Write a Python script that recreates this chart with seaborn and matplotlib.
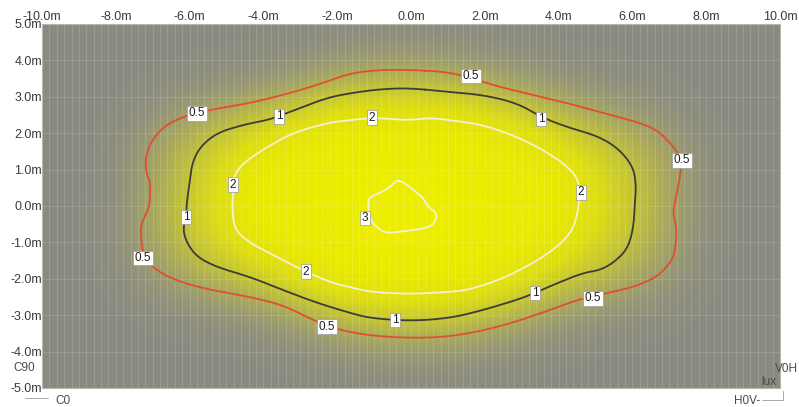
import numpy as np
import matplotlib
matplotlib.use("Agg")
import matplotlib.pyplot as plt
import seaborn as sns
from matplotlib.path import Path
from matplotlib.colors import LinearSegmentedColormap

sns.set_style("white")
plt.rcParams["font.family"] = ["Liberation Sans", "DejaVu Sans"]

# ---------------- data (metres) ----------------
x_ticks = [-10, -8, -6, -4, -2, 0, 2, 4, 6, 8, 10]
y_ticks = [5, 4, 3, 2, 1, 0, -1, -2, -3, -4, -5]
x_tick_labels = ["-10.0m", "-8.0m", "-6.0m", "-4.0m", "-2.0m", "0.0m",
                 "2.0m", "4.0m", "6.0m", "8.0m", "10.0m"]
y_tick_labels = ["5.0m", "4.0m", "3.0m", "2.0m", "1.0m", "0.0m",
                 "-1.0m", "-2.0m", "-3.0m", "-4.0m", "-5.0m"]

levels = [0.5, 1, 2, 3]

iso05_x = [-0.03, 1.06, 1.95, 2.41, 3.31, 4.23, 5.12, 6.12, 6.67, 7.02, 7.24, 7.32,
           7.29, 7.15, 7.10, 7.21, 7.15, 7.02, 6.67, 6.02, 5.31, 4.50, 3.77, 2.41,
           1.06, -0.30, -1.65, -2.55, -3.47, -4.36, -5.72, -6.61, -7.07, -7.26,
           -7.34, -7.26, -7.07, -7.07, -7.15, -7.21, -7.07, -6.72, -6.26, -5.80,
           -5.45, -4.36, -3.47, -2.55, -1.65, -0.84]
iso05_y = [3.74, 3.68, 3.41, 3.27, 3.05, 2.83, 2.58, 2.31, 2.09, 1.73, 1.46, 1.13,
           0.80, 0.08, -0.19, -0.66, -1.29, -1.57, -1.95, -2.23, -2.39, -2.58, -2.86,
           -3.32, -3.60, -3.63, -3.49, -3.19, -2.72, -2.50, -2.25, -1.95, -1.62,
           -1.35, -0.66, -0.38, 0.03, 0.71, 0.80, 1.26, 1.73, 2.17, 2.42, 2.55,
           2.64, 2.83, 3.05, 3.32, 3.65, 3.74]

iso1_x = [-0.03, 1.06, 1.95, 2.87, 3.58, 4.23, 5.12, 5.66, 6.02, 6.10, 6.07, 6.02,
          5.85, 5.47, 5.12, 4.66, 3.96, 3.36, 2.87, 1.95, 1.06, -0.03, -1.11, -1.65,
          -2.55, -3.47, -4.36, -5.26, -5.80, -6.07, -6.18, -6.10, -6.07, -5.99,
          -5.93, -5.72, -5.26, -4.55, -3.90, -3.58, -3.01, -2.28, -1.65, -0.84]
iso1_y = [3.24, 3.13, 3.05, 2.83, 2.42, 2.17, 1.90, 1.54, 1.07, 0.58, 0.08, -0.66,
          -1.21, -1.57, -1.76, -1.84, -2.12, -2.39, -2.58, -2.86, -3.08, -3.16, -3.08,
          -2.94, -2.66, -2.31, -1.95, -1.68, -1.40, -1.02, -0.66, -0.30, 0.16, 0.71,
          1.18, 1.62, 2.01, 2.23, 2.36, 2.47, 2.69, 2.97, 3.10, 3.21]

iso2_x = [-0.03, 0.51, 1.06, 1.95, 2.87, 3.58, 4.12, 4.50, 4.58, 4.53, 4.39, 3.96,
          3.31, 2.41, 1.52, 1.06, -0.03, -1.11, -1.65, -2.11, -2.85, -3.63, -4.36,
          -4.77, -4.85, -4.82, -4.82, -4.55, -3.90, -3.20, -2.28, -1.65, -1.06, -0.57]
iso2_y = [2.36, 2.42, 2.36, 2.23, 1.90, 1.54, 1.18, 0.80, 0.38, -0.11, -0.66, -1.13,
          -1.57, -2.03, -2.31, -2.36, -2.42, -2.36, -2.23, -2.12, -1.81, -1.40, -1.02,
          -0.66, -0.11, 0.44, 0.80, 1.18, 1.62, 2.01, 2.28, 2.36, 2.42, 2.39]

iso3_x = [-0.38, -0.22, -0.03, 0.16, 0.33, 0.46, 0.70, 0.65, 0.43, 0.05, -0.30,
          -0.65, -0.84, -0.92, -1.11, -1.17, -1.11, -0.84, -0.57]
iso3_y = [0.71, 0.66, 0.52, 0.36, 0.22, -0.03, -0.19, -0.47, -0.60, -0.66, -0.71,
          -0.74, -0.66, -0.58, -0.38, 0.08, 0.25, 0.36, 0.52]

label05_x = [1.63, -5.80, 7.34, -7.26, 4.93, -2.28]
label05_y = [3.57, 2.55, 1.26, -1.43, -2.53, -3.32]
label1_x = [-3.58, 3.52, -6.10, 3.36, -0.43]
label1_y = [2.47, 2.39, -0.30, -2.39, -3.13]
label2_x = [-1.06, -4.82, 4.61, -2.85]
label2_y = [2.42, 0.58, 0.38, -1.81]
label3_x = [-1.25]
label3_y = [-0.33]

# ---------------- helpers ----------------
def chaikin(xs, ys, n=2):
    p = np.column_stack([xs, ys]).astype(float)
    for _ in range(n):
        q = np.roll(p, -1, axis=0)
        a = 0.75 * p + 0.25 * q
        b = 0.25 * p + 0.75 * q
        p = np.empty((2 * len(a), 2))
        p[0::2] = a
        p[1::2] = b
    p = np.vstack([p, p[:1]])
    return p[:, 0], p[:, 1]

def blur1d(a, sigma, axis):
    r = int(3 * sigma)
    k = np.exp(-0.5 * (np.arange(-r, r + 1) / sigma) ** 2)
    k /= k.sum()
    pad = [(0, 0), (0, 0)]
    pad[axis] = (r, r)
    ap = np.pad(a, pad, mode="edge")
    return np.apply_along_axis(lambda v: np.convolve(v, k, mode="valid"), axis, ap)

isos = [(iso05_x, iso05_y), (iso1_x, iso1_y), (iso2_x, iso2_y), (iso3_x, iso3_y)]

# ---------------- glow field built from the iso polygons ----------------
gx = np.linspace(-10, 10, 401)
gy = np.linspace(-5, 5, 201)
GX, GY = np.meshgrid(gx, gy)
pts = np.column_stack([GX.ravel(), GY.ravel()])
steps = [0.55, 0.55, 1.0, 0.6]
field = np.zeros(GX.shape)
for (xs, ys), st in zip(isos, steps):
    sx, sy = chaikin(xs, ys)
    m = Path(np.column_stack([sx, sy])).contains_points(pts).reshape(GX.shape)
    field += st * m
field = blur1d(blur1d(field, 16, 0), 16, 1)

cmap = LinearSegmentedColormap.from_list("glow", [
    (0.00, (0.545, 0.545, 0.505)),
    (0.07, (0.590, 0.590, 0.465)),
    (0.18, (0.660, 0.660, 0.370)),
    (0.36, (0.775, 0.775, 0.200)),
    (0.55, (0.870, 0.870, 0.070)),
    (0.78, (0.910, 0.910, 0.015)),
    (1.00, (0.930, 0.930, 0.000)),
])

# ---------------- figure ----------------
fig = plt.figure(figsize=(7.99, 4.07), dpi=100)
ax = fig.add_axes([42 / 799, 1 - 388 / 407, (780 - 42) / 799, (388 - 24) / 407])
ax.imshow(field, extent=(-10, 10, -5, 5), origin="lower", aspect="auto",
          cmap=cmap, vmin=0, vmax=2.2, interpolation="bilinear", zorder=0)

# scan-like light vertical lines and faint horizontal grid
for xv in np.arange(-10, 10.01, 0.2):
    ax.axvline(xv, color="white", alpha=0.15, lw=0.8, zorder=1)
for yv in y_ticks:
    ax.axhline(yv, color="white", alpha=0.12, lw=0.8, zorder=1)

line_colors = ["#e0502c", "#3c3c38", "#f4f2d0", "#f4f2d0"]
for (xs, ys), col in zip(isos, line_colors):
    sx, sy = chaikin(xs, ys)
    sns.lineplot(x=sx, y=sy, sort=False, estimator=None, color=col, lw=1.3,
                 ax=ax, zorder=3, legend=False)

lab_sets = [(label05_x, label05_y, "0.5"), (label1_x, label1_y, "1"),
            (label2_x, label2_y, "2"), (label3_x, label3_y, "3")]
for lx, ly, s in lab_sets:
    for x, y in zip(lx, ly):
        ax.text(x, y, s, ha="center", va="center", fontsize=8.5, color="#1e1e1e",
                zorder=5,
                bbox=dict(boxstyle="square,pad=0.12", fc="white", ec="#9a9a9a", lw=0.5))

ax.set_xlim(-10, 10)
ax.set_ylim(-5, 5)
ax.xaxis.tick_top()
ax.set_xticks(x_ticks)
ax.set_xticklabels(x_tick_labels)
ax.set_yticks(y_ticks)
ax.set_yticklabels(y_tick_labels)
ax.tick_params(axis="both", length=0, labelsize=9, labelcolor="#3a3a3a")
ax.tick_params(axis="x", pad=1)
ax.tick_params(axis="y", pad=0)
ax.set_xlabel("")
ax.set_ylabel("")
for sp in ax.spines.values():
    sp.set_color("#b8b8b0")
    sp.set_linewidth(0.8)

# corner annotations
fig.text(35 / 799, 1 - 368 / 407, "C90", ha="right", va="center", fontsize=8.5, color="#4a4a4a")
fig.text(55 / 799, 1 - 401 / 407, "C0", ha="left", va="center", fontsize=8.5, color="#4a4a4a")
fig.add_artist(plt.Line2D([25 / 799, 48 / 799], [1 - 398 / 407, 1 - 398 / 407],
                          color="#9a9a9a", lw=0.6))
fig.text(798 / 799, 1 - 369 / 407, "V0H", ha="right", va="center", fontsize=8.5, color="#4a4a4a")
fig.text(776 / 799, 1 - 382 / 407, "lux", ha="right", va="center", fontsize=8.5, color="#4a4a4a")
fig.text(760 / 799, 1 - 401 / 407, "H0V-", ha="right", va="center", fontsize=8.5, color="#4a4a4a")
fig.add_artist(plt.Line2D([762 / 799, 783 / 799, 783 / 799],
                          [1 - 400 / 407, 1 - 400 / 407, 1 - 391 / 407],
                          color="#9a9a9a", lw=0.6))

fig.savefig("out.png", dpi=100)
